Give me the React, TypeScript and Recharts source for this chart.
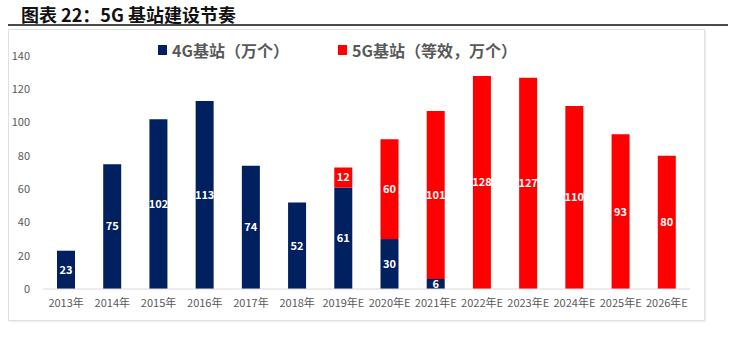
import React from 'react';
import { BarChart, Bar, XAxis, YAxis, LabelList } from 'recharts';

const categories = ['2013年', '2014年', '2015年', '2016年', '2017年', '2018年', '2019年E', '2020年E', '2021年E', '2022年E', '2023年E', '2024年E', '2025年E', '2026年E'];
const series4G: (number | null)[] = [23, 75, 102, 113, 74, 52, 61, 30, 6, null, null, null, null, null];
const series5G: (number | null)[] = [null, null, null, null, null, null, 12, 60, 101, 128, 127, 110, 93, 80];
const yTicks = [0, 20, 40, 60, 80, 100, 120, 140];

const COLOR_4G = '#002060';
const COLOR_5G = '#FF0000';
const FONT = '"Noto Sans CJK SC", "Open Sans", sans-serif';

const data = categories.map((c, i) => ({ name: c, g4: series4G[i], g5: series5G[i] }));

const LegendItem = ({ color, text, left }: { color: string; text: string; left: number }) => (
  <div style={{ position: 'absolute', left, top: 39, height: 22, display: 'flex', alignItems: 'center' }}>
    <div style={{ width: 9, height: 10, background: color, marginRight: 5 }} />
    <span style={{ fontFamily: FONT, fontSize: 16, fontWeight: 'bold', color: '#595959', whiteSpace: 'nowrap', lineHeight: '22px' }}>{text}</span>
  </div>
);

export default function App() {
  return (
    <div style={{ position: 'absolute', left: 0, top: 0, width: 740, height: 355, background: '#fff', overflow: 'hidden' }}>
      <div style={{ position: 'absolute', left: 21, top: 2, fontFamily: FONT, fontSize: 18, fontWeight: 'bold', color: '#111', whiteSpace: 'nowrap', lineHeight: '24px' }}>
        图表 22：5G 基站建设节奏
      </div>
      <div style={{ position: 'absolute', left: 8, top: 24, width: 720, height: 2, background: '#4a4a4a' }} />
      <div style={{ position: 'absolute', left: 8, top: 29, width: 695, height: 290, border: '1px solid #e0e0e0', boxShadow: '1px 1px 2px rgba(0,0,0,0.08)' }} />
      <div style={{ position: 'absolute', left: 0, top: 0 }}>
        <BarChart width={740} height={355} data={data} margin={{ top: 56, right: 50, bottom: 36, left: 8 }}>
          <XAxis
            dataKey="name"
            height={30}
            tickLine={false}
            tickSize={0}
            tickMargin={10}
            interval={0}
            axisLine={{ stroke: '#d9d9d9' }}
            tick={{ fontSize: 11, fill: '#595959', fontFamily: FONT }}
          />
          <YAxis
            width={35}
            domain={[0, 140]}
            ticks={yTicks}
            axisLine={false}
            tickLine={false}
            tickSize={0}
            tickMargin={13}
            tick={{ fontSize: 11, fill: '#595959', fontFamily: FONT }}
          />
          <Bar dataKey="g4" stackId="a" fill={COLOR_4G} barSize={18} isAnimationActive={false}>
            <LabelList dataKey="g4" position="center" fill="#fff" fontSize={11} fontWeight="bold" fontFamily={FONT} />
          </Bar>
          <Bar dataKey="g5" stackId="a" fill={COLOR_5G} barSize={18} isAnimationActive={false}>
            <LabelList dataKey="g5" position="center" fill="#fff" fontSize={11} fontWeight="bold" fontFamily={FONT} />
          </Bar>
        </BarChart>
      </div>
      <LegendItem color={COLOR_4G} text="4G基站（万个）" left={158} />
      <LegendItem color={COLOR_5G} text="5G基站（等效，万个）" left={338} />
    </div>
  );
}
